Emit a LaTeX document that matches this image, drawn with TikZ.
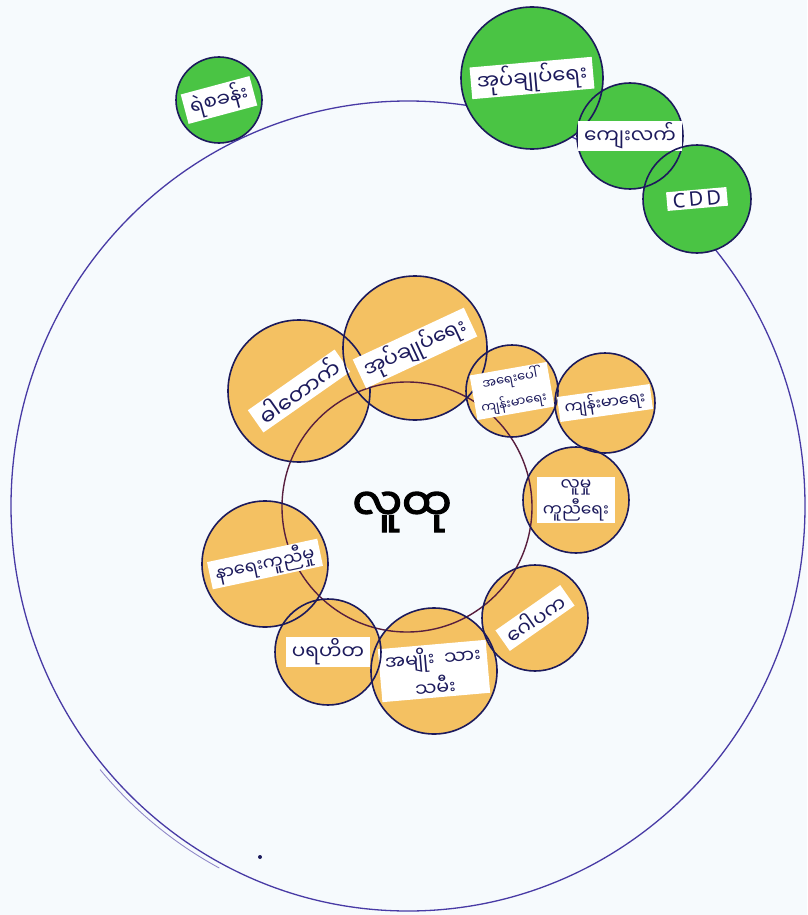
\documentclass[tikz,border=0pt]{standalone}
\usepackage{fontspec}
\newfontfamily\mmfont[Script=Myanmar]{Noto Sans Myanmar UI}
\newfontfamily\mmbold[Script=Myanmar,FakeBold=3]{Noto Sans Myanmar UI}
\newfontfamily\latinfont{Noto Sans}
\definecolor{vnPaper}{RGB}{246, 250, 253}
\definecolor{vnNavy}{RGB}{28, 26, 92}
\definecolor{vnViolet}{RGB}{72, 58, 165}
\definecolor{vnMaroon}{RGB}{88, 30, 62}
\definecolor{vnGreen}{RGB}{74, 196, 68}
\definecolor{vnOrange}{RGB}{244, 193, 98}
\newcommand{\fs}[1]{\fontsize{#1}{#1}\selectfont}

\def\greenlist{police/219/100/43/15/{ရဲစခန်း},
  gad/532/78/71/5/{\fs{21}အုပ်ချုပ်ရေး},
  rural/630/136/53/0/{ကျေးလက်},
  cdd/697/199/54/5/{\latinfont C\,D\,D}}
\def\orangelist{tok/299/391/71/35/{\fs{22}ဓါတောက်},
  admin/415/348/72/25/{\fs{21}အုပ်ချုပ်ရေး},
  emerg/512/391/46/10/{\fs{13}အရေးပေါ်\\[1pt]\fs{13}ကျန်းမာရေး},
  health/605/403/50/8/{\fs{16}ကျန်းမာရေး},
  social/576/500/53/0/{\fs{17}လူမှု\\[3pt]\fs{17}ကူညီရေး},
  trustee/535/618/53/35/{ဂေါပက},
  gender/434/671/63/5/{\fs{19}အမျိုး\ \ သား\\[3pt]\fs{19}သမီး},
  charity/328/652/53/0/{ပရဟိတ},
  funeral/265/564/63/12/{\fs{18}နာရေးကူညီမှု}}

\begin{document}
\begin{tikzpicture}[x=1pt, y=-1pt, every node/.style={font=\mmfont\fontsize{20}{23}\selectfont},
    ball/.style={circle, draw=vnNavy, line width=1.6pt, inner sep=0pt},
    band/.style={fill=white, text=vnNavy, inner xsep=6pt, inner ysep=2pt, align=center}]
    \fill[vnPaper] (0,0) rectangle (807,915);
    \draw[line width=1.3pt, vnViolet] (408,506) ellipse [x radius=397, y radius=405];
    \draw[line width=0.9pt, vnViolet!60] ([shift={(140:402 and 410)}]408,506) arc[start angle=140, end angle=118, x radius=402, y radius=410];
    \fill[vnNavy] (260,857) circle (2);
    \foreach \n/\x/\y/\r/\a/\t in \greenlist
        \fill[vnGreen] (\x,\y) circle (\r);
    \foreach \n/\x/\y/\r/\a/\t in \orangelist
        \fill[vnOrange] (\x,\y) circle (\r);
    \node[circle, draw=vnMaroon, line width=1.4pt, minimum size=250pt, inner sep=0pt] (community) at (407,507) {};
    \foreach \n/\x/\y/\r/\a/\t in \greenlist {
        \node[ball, minimum size=2*\r pt] (\n) at (\x,\y) {};
        \node[band, rotate=\a] (\n-t) at (\n) {\t};
    }
    \foreach \n/\x/\y/\r/\a/\t in \orangelist {
        \node[ball, minimum size=2*\r pt] (\n) at (\x,\y) {};
        \node[band, rotate=\a] (\n-t) at (\n) {\t};
    }
    \node[font=\mmbold\fontsize{44}{48}\selectfont, text=black] (community-t) at (402,512) {လူထု};
\end{tikzpicture}
\end{document}
